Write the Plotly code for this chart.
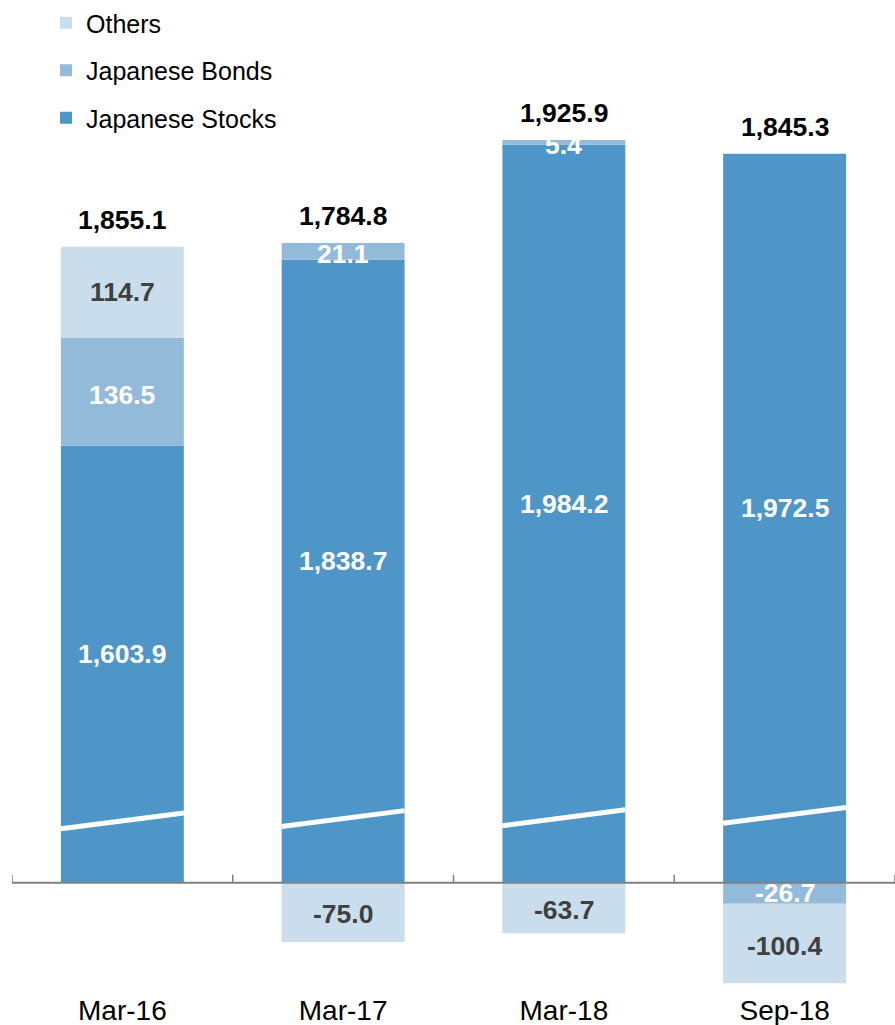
import plotly.graph_objects as go

# ---- data ----
categories = ["Mar-16", "Mar-17", "Mar-18", "Sep-18"]
stocks = [1603.9, 1838.7, 1984.2, 1972.5]
bonds = [136.5, 21.1, 5.4, -26.7]
others = [114.7, -75.0, -63.7, -100.4]
totals = [1855.1, 1784.8, 1925.9, 1845.3]

# ---- styling / layout constants ----
AXIS_BREAK = 1052          # amount cut out of the stocks bars by the broken axis
C_STOCKS = "#4F96C8"
C_BONDS = "#93BBD9"
C_OTHERS = "#C9DDEC"
DARK = "#404040"
FONT = "Liberation Sans, Arial, sans-serif"
LABEL_SIZE = 26.5
BAR_WIDTH = 0.557
BREAK_LOW = [68, 71, 72, 75]   # left end of the break marks (plot units)
BREAK_RISE = 20

W, H = 895, 1025
M_L, M_R, M_T, M_B = 12, 0, 0, 34
PX_PER_UNIT = 0.792
ZERO_PX = 882.7
plot_h = H - M_T - M_B
y_top = (ZERO_PX - M_T) / PX_PER_UNIT
y_bot = -(H - M_B - ZERO_PX) / PX_PER_UNIT

stocks_plot = [s - AXIS_BREAK for s in stocks]

fig = go.Figure()
fig.add_trace(go.Bar(
    x=categories, y=stocks_plot, name="Japanese Stocks", legendrank=3, legendgroup="s",
    marker=dict(color=C_STOCKS, line=dict(width=0)), customdata=stocks,
    hovertemplate="%{x}<br>Japanese Stocks: %{customdata:,.1f}<extra></extra>"))
fig.add_trace(go.Bar(
    x=categories, y=bonds, name="Japanese Bonds", legendrank=2, legendgroup="b",
    marker=dict(color=C_BONDS, line=dict(width=0)),
    hovertemplate="%{x}<br>Japanese Bonds: %{y:,.1f}<extra></extra>"))
fig.add_trace(go.Bar(
    x=categories, y=others, name="Others", legendrank=1, legendgroup="o",
    marker=dict(color=C_OTHERS, line=dict(width=0)),
    hovertemplate="%{x}<br>Others: %{y:,.1f}<extra></extra>"))

annotations = []
def lab(x, y, v, color, yshift=0):
    annotations.append(dict(
        x=x, y=y, text=f"{v:,.1f}", showarrow=False, xref="x", yref="y",
        yshift=yshift, font=dict(family=FONT, size=LABEL_SIZE, color=color, weight="bold")))

for i, c in enumerate(categories):
    sp = stocks_plot[i]
    lab(c, sp / 2, stocks[i], "white", yshift=10)
    pos_top = sp
    neg_bot = 0
    if bonds[i] >= 0:
        lab(c, pos_top + bonds[i] / 2, bonds[i], "white", yshift=-3)
        pos_top += bonds[i]
    else:
        lab(c, neg_bot + bonds[i] / 2, bonds[i], "white")
        neg_bot += bonds[i]
    if others[i] >= 0:
        lab(c, pos_top + others[i] / 2, others[i], DARK)
        pos_top += others[i]
    else:
        lab(c, neg_bot + others[i] / 2, others[i], DARK, yshift=-2)
        neg_bot += others[i]
    annotations.append(dict(
        x=c, y=pos_top, text=f"{totals[i]:,.1f}", showarrow=False,
        xref="x", yref="y", yanchor="middle", yshift=27,
        font=dict(family=FONT, size=LABEL_SIZE, color="black", weight="bold")))

shapes = []
# axis break marks
for i in range(len(categories)):
    shapes.append(dict(
        type="line", xref="x", yref="y",
        x0=i - BAR_WIDTH / 2, x1=i + BAR_WIDTH / 2,
        y0=BREAK_LOW[i], y1=BREAK_LOW[i] + BREAK_RISE,
        line=dict(color="white", width=5), layer="above"))
# zero line
shapes.append(dict(type="line", xref="paper", yref="y", x0=0, x1=1, y0=0, y1=0,
                   line=dict(color="#808080", width=2), layer="above"))
# boundary ticks on zero line
for i in range(len(categories) + 1):
    shapes.append(dict(type="line", xref="x", yref="y", ysizemode="pixel", yanchor=0,
                       x0=i - 0.5, x1=i - 0.5, y0=0, y1=8,
                       line=dict(color="#808080", width=1.5), layer="above"))

legend_left_px = 46
fig.update_layout(
    width=W, height=H,
    margin=dict(l=M_L, r=M_R, t=M_T, b=M_B),
    paper_bgcolor="white", plot_bgcolor="white",
    barmode="relative", bargap=1 - BAR_WIDTH,
    font=dict(family=FONT, color="black"),
    xaxis=dict(range=[-0.5, 3.5], showline=False, ticks="", showgrid=False,
               zeroline=False, tickfont=dict(size=28, color="black")),
    yaxis=dict(range=[y_bot, y_top], visible=False, showgrid=False, zeroline=False),
    legend=dict(x=(legend_left_px - M_L) / (W - M_L - M_R), y=1.0,
                xanchor="left", yanchor="top",
                traceorder="grouped", tracegroupgap=12,
                font=dict(size=25, color="black"), bgcolor="rgba(0,0,0,0)"),
    annotations=annotations,
    shapes=shapes,
    showlegend=True,
)

fig.write_html("out.html", config={"displayModeBar": False},
               post_script="document.body.style.margin='0';document.body.style.overflow='hidden';")
